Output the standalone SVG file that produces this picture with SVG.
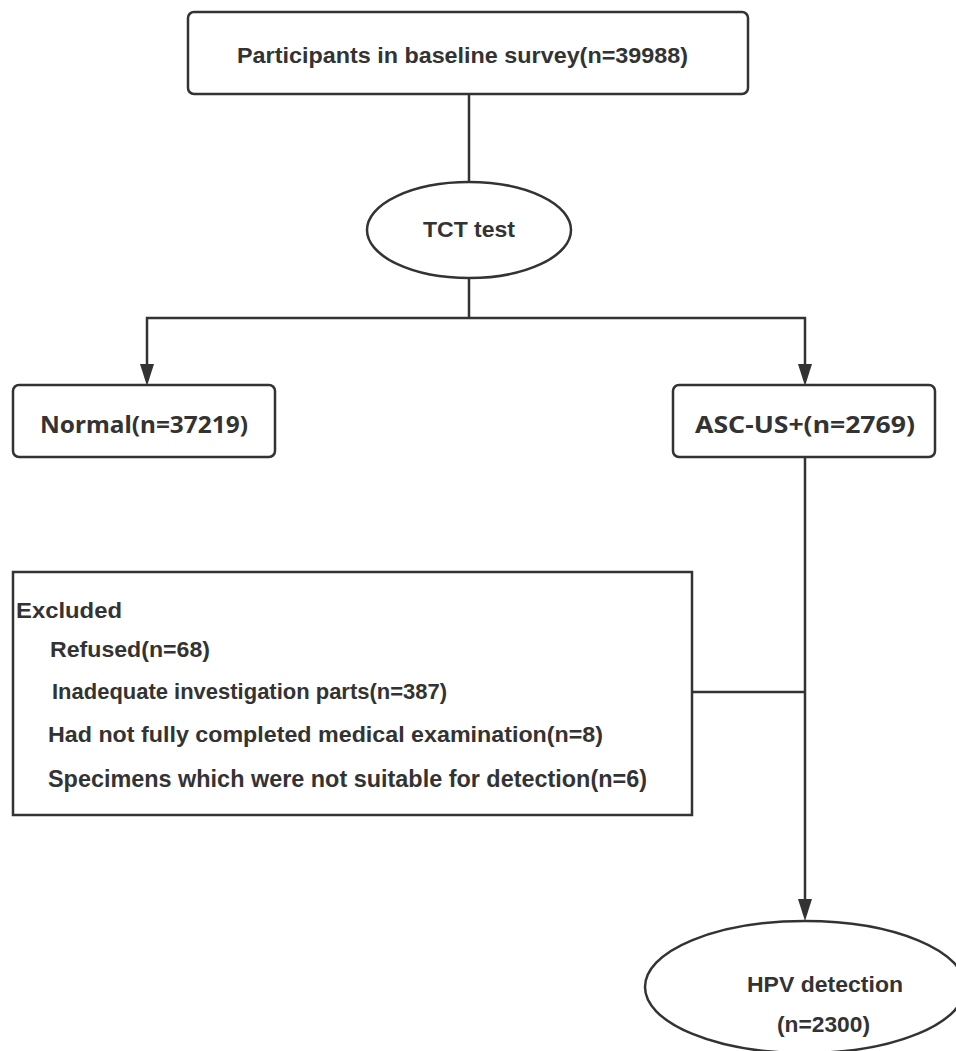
<svg xmlns="http://www.w3.org/2000/svg" width="956" height="1051" viewBox="0 0 956 1051">
<defs>
<style>
.box{fill:#fff;stroke:#333;stroke-width:2.5}
.ln{fill:none;stroke:#333;stroke-width:2.5}
.ah{fill:#333}
.t{font-family:"Liberation Sans",Arial,sans-serif;font-weight:bold;fill:#333}
.n{font-family:"Noto Sans","Open Sans",sans-serif;font-weight:bold;fill:#333}
</style>
</defs>
<rect width="956" height="1051" fill="#fff"/>
<g id="connectors">
<line class="ln" x1="469" y1="94" x2="469" y2="182"/>
<line class="ln" x1="469" y1="278" x2="469" y2="318"/>
<polyline class="ln" points="147,366 147,318 805,318 805,366"/>
<line class="ln" x1="805" y1="457" x2="805" y2="901"/>
<line class="ln" x1="692" y1="692" x2="805" y2="692"/>
<path class="ah" d="M140,364 L154,364 L147,386 Z"/>
<path class="ah" d="M798,364 L812,364 L805,386 Z"/>
<path class="ah" d="M798,899 L812,899 L805,921 Z"/>
</g>
<g id="baseline">
<rect class="box" x="188" y="12" width="560" height="82" rx="6"/>
<text class="t" x="237" y="63" font-size="22" textLength="451" lengthAdjust="spacingAndGlyphs">Participants in baseline survey(n=39988)</text>
</g>
<g id="tct">
<ellipse class="box" cx="469" cy="230" rx="102" ry="48"/>
<text class="t" x="423" y="237" font-size="22" textLength="92" lengthAdjust="spacingAndGlyphs">TCT test</text>
</g>
<g id="normal">
<rect class="box" x="13" y="385" width="262" height="72" rx="6"/>
<text class="n" x="40" y="433" font-size="23" textLength="208" lengthAdjust="spacingAndGlyphs">Normal(n=37219)</text>
</g>
<g id="ascus">
<rect class="box" x="673" y="385" width="262" height="72" rx="6"/>
<text class="n" x="695" y="433" font-size="23" textLength="220" lengthAdjust="spacingAndGlyphs">ASC-US+(n=2769)</text>
</g>
<g id="excluded">
<rect class="box" x="13" y="572" width="679" height="243"/>
<text class="t" x="16" y="618" font-size="22" textLength="106" lengthAdjust="spacingAndGlyphs">Excluded</text>
<text class="t" x="50" y="657" font-size="22" textLength="160" lengthAdjust="spacingAndGlyphs">Refused(n=68)</text>
<text class="t" x="52" y="699" font-size="22" textLength="395" lengthAdjust="spacingAndGlyphs">Inadequate investigation parts(n=387)</text>
<text class="t" x="48" y="742" font-size="22" textLength="555" lengthAdjust="spacingAndGlyphs">Had not fully completed medical examination(n=8)</text>
<text class="t" x="48" y="787" font-size="23" textLength="599" lengthAdjust="spacingAndGlyphs">Specimens which were not suitable for detection(n=6)</text>
</g>
<g id="hpv">
<ellipse class="box" cx="805" cy="987" rx="160" ry="66"/>
<text class="t" x="747" y="992" font-size="22" textLength="156" lengthAdjust="spacingAndGlyphs">HPV detection</text>
<text class="t" x="777" y="1032" font-size="22" textLength="93" lengthAdjust="spacingAndGlyphs">(n=2300)</text>
</g>
</svg>
